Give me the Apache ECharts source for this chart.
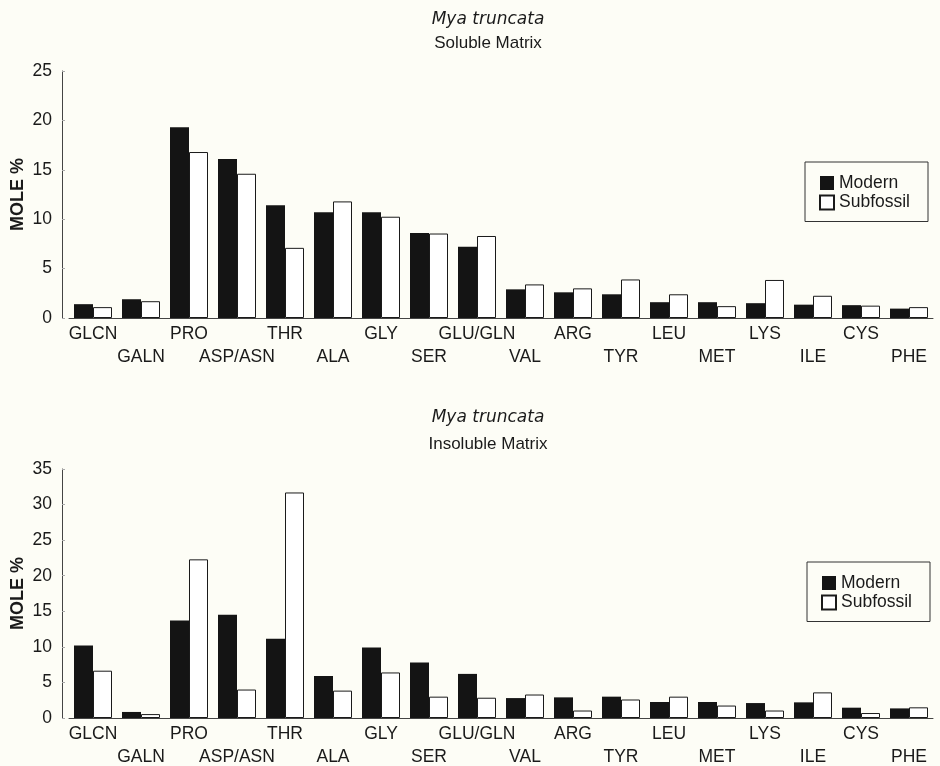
<!DOCTYPE html>
<html>
<head>
<meta charset="utf-8">
<script src="https://cdn.jsdelivr.net/npm/echarts@6/dist/echarts.min.js"></script>
<style>
    html, body {
        margin: 0;
        padding: 0;
        background: #fdfdf6;
    }
    #chart {
        width: 940px;
        height: 766px;
    }
</style>
</head>
<body>
<div id="chart"></div>
<script>
const aminoAcids = ['GLCN', 'GALN', 'PRO', 'ASP/ASN', 'THR', 'ALA', 'GLY', 'SER', 'GLU/GLN',
    'VAL', 'ARG', 'TYR', 'LEU', 'MET', 'LYS', 'ILE', 'CYS', 'PHE'];

// soluble matrix
const solubleModern = [1.4, 1.9, 19.3, 16.1, 11.4, 10.7, 10.7, 8.6, 7.2,
    2.9, 2.6, 2.4, 1.6, 1.6, 1.5, 1.35, 1.3, 0.95];
const solubleSubfossil = [1.1, 1.7, 16.8, 14.6, 7.1, 11.8, 10.25, 8.55, 8.3,
    3.4, 3.0, 3.9, 2.4, 1.2, 3.85, 2.25, 1.25, 1.1];

// insoluble matrix
const insolubleModern = [10.2, 0.85, 13.7, 14.5, 11.15, 5.9, 9.9, 7.8, 6.2,
    2.8, 2.9, 3.0, 2.25, 2.25, 2.1, 2.2, 1.45, 1.35];
const insolubleSubfossil = [6.65, 0.55, 22.3, 4.0, 31.7, 3.85, 6.4, 3.0, 2.85,
    3.3, 1.05, 2.6, 3.0, 1.75, 1.05, 3.6, 0.7, 1.5];

const font = 'Liberation Sans, Arial, sans-serif';
const ink = '#1a1a1a';

const modernStyle = {
    color: '#141414'
};
const subfossilStyle = {
    color: '#ffffff',
    borderColor: '#1a1a1a',
    borderWidth: 1
};

const makeTitle = (top, sub, gap) => ({
    text: 'Mya truncata',
    subtext: sub,
    left: 483,
    top: top,
    textAlign: 'center',
    itemGap: gap,
    textStyle: {
        fontFamily: 'DejaVu Sans, sans-serif',
        fontStyle: 'italic',
        fontWeight: 'normal',
        fontSize: 17,
        color: ink
    },
    subtextStyle: {
        fontFamily: font,
        fontSize: 17,
        color: ink
    }
});

const makeLegend = (left, top) => ({
    orient: 'vertical',
    left: left,
    top: top,
    padding: [12, 18, 10, 14],
    itemGap: 1.5,
    itemWidth: 14,
    itemHeight: 14,
    borderColor: '#333',
    borderWidth: 1,
    borderRadius: 0,
    icon: 'rect',
    textStyle: {
        fontFamily: font,
        fontSize: 17.5,
        color: ink
    },
    data: ['Modern', 'Subfossil'],
    selectedMode: false
});

const makeXAxis = gridIndex => ({
    type: 'category',
    gridIndex: gridIndex,
    data: aminoAcids,
    axisLine: {
        lineStyle: {
            color: '#444',
            width: 1
        }
    },
    axisTick: {
        show: false
    },
    axisLabel: {
        interval: 0,
        margin: 5,
        fontFamily: font,
        fontSize: 17.5,
        color: ink,
        lineHeight: 23,
        formatter: (value, index) => (index % 2 ? '\n' + value : value)
    }
});

const makeYAxis = (gridIndex, max) => ({
    type: 'value',
    gridIndex: gridIndex,
    min: 0,
    max: max,
    interval: 5,
    offset: 7,
    name: 'MOLE %',
    nameLocation: 'middle',
    nameGap: 35,
    nameMoveOverlap: false,
    nameTextStyle: {
        fontFamily: font,
        fontWeight: 'bold',
        fontSize: 18,
        color: ink
    },
    axisLine: {
        show: true,
        lineStyle: {
            color: '#444',
            width: 1
        }
    },
    axisTick: {
        show: true,
        inside: true,
        length: 3,
        lineStyle: {
            color: '#aaa'
        }
    },
    splitLine: {
        show: false
    },
    axisLabel: {
        margin: 10,
        fontFamily: font,
        fontSize: 17.5,
        color: ink
    }
});

const makeBars = (name, values, index, style) => ({
    name: name,
    type: 'bar',
    xAxisIndex: index,
    yAxisIndex: index,
    data: values,
    barWidth: 19,
    barGap: '0%',
    itemStyle: style,
    silent: true
});

const chart = echarts.init(document.getElementById('chart'));

chart.setOption({
    backgroundColor: '#fdfdf6',
    animation: false,
    title: [
        makeTitle(6, 'Soluble Matrix', 7),
        makeTitle(404, 'Insoluble Matrix', 10)
    ],
    legend: [
        makeLegend(805, 162),
        makeLegend(807, 562)
    ],
    grid: [
        {left: 69, width: 864, top: 71, height: 247, outerBoundsMode: 'none'},
        {left: 69, width: 864, top: 469, height: 249, outerBoundsMode: 'none'}
    ],
    xAxis: [makeXAxis(0), makeXAxis(1)],
    yAxis: [makeYAxis(0, 25), makeYAxis(1, 35)],
    series: [
        makeBars('Modern', solubleModern, 0, modernStyle),
        makeBars('Subfossil', solubleSubfossil, 0, subfossilStyle),
        makeBars('Modern', insolubleModern, 1, modernStyle),
        makeBars('Subfossil', insolubleSubfossil, 1, subfossilStyle)
    ]
});
</script>
</body>
</html>
